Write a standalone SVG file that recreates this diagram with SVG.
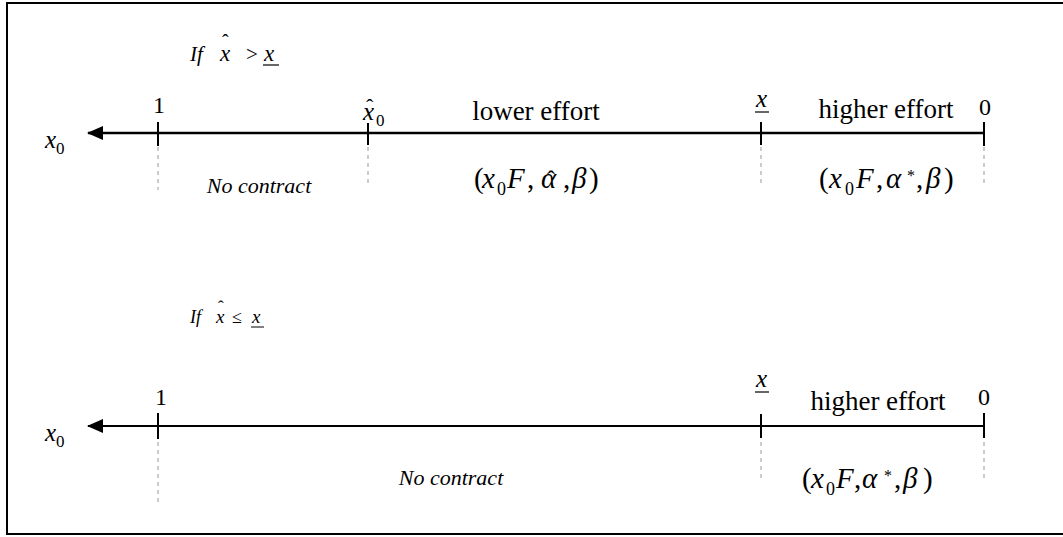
<svg xmlns="http://www.w3.org/2000/svg" width="1063" height="537" viewBox="0 0 1063 537">
<style>
text{font-family:"Liberation Serif","Times New Roman","DejaVu Serif",serif;fill:#000}
.i{font-style:italic}
.lbl{font-size:27px}
.num{font-size:24px}
.nc{font-size:22px;font-style:italic}
.m{font-size:29px}
.s{font-size:17px;font-style:normal}
.tick{stroke:#000;stroke-width:2}
.dash{stroke:#999;stroke-width:1;stroke-dasharray:4,4}
.axis{stroke:#000;fill:none}
</style>
<defs>
<marker id="ah" markerWidth="16" markerHeight="14" refX="15" refY="7" orient="auto" markerUnits="userSpaceOnUse">
<path d="M0,0 L16,7 L0,14 Z" fill="#000"/>
</marker>
</defs>
<rect x="0" y="0" width="1063" height="537" fill="#fff"/>
<path d="M1063,3 H7 V534 H1063" fill="none" stroke="#000" stroke-width="2"/>

<g id="connectors">
<line class="axis" x1="984" y1="133" x2="88" y2="133" stroke-width="2.5" marker-end="url(#ah)"/>
<line class="axis" x1="984" y1="426" x2="88" y2="426" stroke-width="2" marker-end="url(#ah)"/>
</g>

<g id="top-panel">
<g id="cond-top">
<text x="190" y="61" class="i" font-size="21">If</text>
<text x="220" y="61" class="i" font-size="23">x</text>
<text x="222" y="49" font-size="20">ˆ</text>
<text x="246" y="61" font-size="21">&gt;</text>
<text x="264" y="61" class="i" font-size="23">x</text>
<line x1="263" y1="65" x2="279" y2="65" stroke="#000" stroke-width="1.2"/>
</g>
<g id="x0-top"><text x="45" y="148" class="i" font-size="25">x<tspan class="s" dy="6">0</tspan></text></g>
<g id="tick-1-top">
<line class="tick" x1="158" y1="122" x2="158" y2="146"/>
<line class="dash" x1="158" y1="147" x2="158" y2="190"/>
<text x="159" y="113" class="num" text-anchor="middle">1</text>
</g>
<g id="tick-xhat0-top">
<line class="tick" x1="368" y1="123" x2="368" y2="145"/>
<line class="dash" x1="368" y1="147" x2="368" y2="185"/>
<text x="363" y="120" class="i" font-size="25">x</text>
<text x="366" y="114" font-size="22">ˆ</text>
<text x="376" y="126" font-size="17">0</text>
</g>
<g id="tick-xunder-top">
<line class="tick" x1="761" y1="122" x2="761" y2="145"/>
<line class="dash" x1="761" y1="147" x2="761" y2="187"/>
<text x="756" y="107" class="i" font-size="25">x</text>
<line x1="755" y1="112" x2="769" y2="112" stroke="#000" stroke-width="1.2"/>
</g>
<g id="tick-0-top">
<line class="tick" x1="984" y1="122" x2="984" y2="146"/>
<line class="dash" x1="984" y1="147" x2="984" y2="187"/>
<text x="985" y="115" class="num" text-anchor="middle">0</text>
</g>
<g id="no-contract-top"><text x="259" y="193" class="nc" text-anchor="middle">No contract</text></g>
<g id="lower-effort"><text x="536" y="120" class="lbl" text-anchor="middle">lower effort</text></g>
<g id="higher-effort-top"><text x="886" y="118" class="lbl" text-anchor="middle">higher effort</text></g>
<g id="tuple-lower">
<text y="188" class="m"><tspan x="474">(</tspan><tspan x="482" class="i">x</tspan><tspan x="497" y="195" font-size="18">0</tspan><tspan x="507" y="188" class="i">F</tspan><tspan x="527">,</tspan><tspan x="541" class="i">α</tspan><tspan x="563">,</tspan><tspan x="572" class="i">β</tspan><tspan x="589">)</tspan></text>
<text x="547" y="187" font-size="24">ˆ</text>
</g>
<g id="tuple-higher-top">
<text y="188" class="m"><tspan x="819">(</tspan><tspan x="829" class="i">x</tspan><tspan x="845" y="195" font-size="18">0</tspan><tspan x="856" y="188" class="i">F</tspan><tspan x="876">,</tspan><tspan x="886" class="i">α</tspan><tspan x="907" y="181" font-size="16">*</tspan><tspan x="916" y="188">,</tspan><tspan x="926" class="i">β</tspan><tspan x="944">)</tspan></text>
</g>
</g>

<g id="bottom-panel">
<g id="cond-bottom">
<text x="190" y="323" class="i" font-size="18">If</text>
<text x="216" y="323" class="i" font-size="19">x</text>
<text x="218" y="312" font-size="17">ˆ</text>
<text x="232" y="323" font-size="18">≤</text>
<text x="252" y="323" class="i" font-size="19">x</text>
<line x1="251" y1="327" x2="264" y2="327" stroke="#000" stroke-width="1"/>
</g>
<g id="x0-bottom"><text x="45" y="441" class="i" font-size="25">x<tspan class="s" dy="6">0</tspan></text></g>
<g id="tick-1-bottom">
<line class="tick" x1="158" y1="413" x2="158" y2="439"/>
<line class="dash" x1="158" y1="442" x2="158" y2="504"/>
<text x="161" y="405" class="num" text-anchor="middle">1</text>
</g>
<g id="tick-xunder-bottom">
<line class="tick" x1="761" y1="414" x2="761" y2="438"/>
<line class="dash" x1="761" y1="442" x2="761" y2="478"/>
<text x="756" y="387" class="i" font-size="25">x</text>
<line x1="755" y1="392" x2="769" y2="392" stroke="#000" stroke-width="1.2"/>
</g>
<g id="tick-0-bottom">
<line class="tick" x1="984" y1="413" x2="984" y2="438"/>
<line class="dash" x1="984" y1="442" x2="984" y2="478"/>
<text x="984" y="405" class="num" text-anchor="middle">0</text>
</g>
<g id="no-contract-bottom"><text x="451" y="485" class="nc" text-anchor="middle">No contract</text></g>
<g id="higher-effort-bottom"><text x="878" y="410" class="lbl" text-anchor="middle">higher effort</text></g>
<g id="tuple-higher-bottom">
<text y="488" class="m"><tspan x="802">(</tspan><tspan x="811" class="i">x</tspan><tspan x="826" y="495" font-size="18">0</tspan><tspan x="836" y="488" class="i">F</tspan><tspan x="854">,</tspan><tspan x="862" class="i">α</tspan><tspan x="884" y="481" font-size="16">*</tspan><tspan x="894" y="488">,</tspan><tspan x="903" class="i">β</tspan><tspan x="923">)</tspan></text>
</g>
</g>
</svg>
